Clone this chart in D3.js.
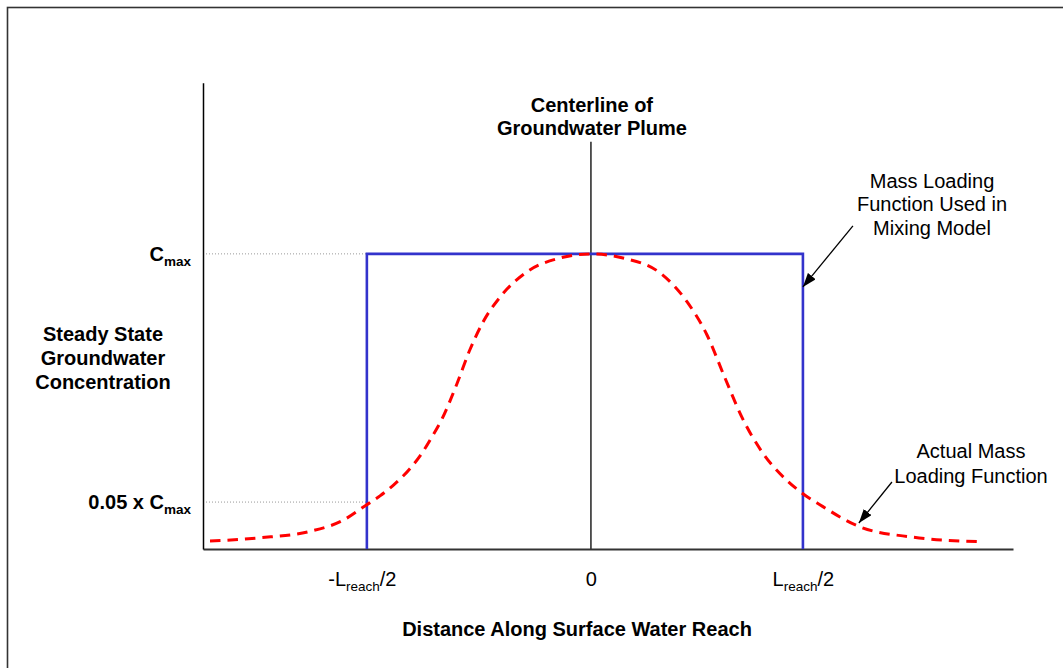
<!DOCTYPE html>
<html>
<head>
<meta charset="utf-8">
<script src="https://cdn.jsdelivr.net/npm/d3@7"></script>
<style>
  html, body { margin: 0; padding: 0; background: #fff; }
  svg { display: block; font-family: Arial, "Liberation Sans", sans-serif; }
</style>
</head>
<body>
<svg id="chart" width="1063" height="668"></svg>
<script>
// Distance along the reach, in units of L_reach/2 (0 = plume centerline)
const plumeX = [-1.797, -1.561, -1.325, -1.170, -1.066, -0.995, -0.934, -0.854, -0.797,
                -0.750, -0.703, -0.632, -0.571, -0.509, -0.420, -0.302, -0.146, 0,
                0.151, 0.325, 0.453, 0.547, 0.632, 0.712, 0.807, 0.925, 0.995,
                1.080, 1.269, 1.519, 1.821];
// Relative groundwater concentration (1 = Cmax)
const plumeC = [0.027, 0.038, 0.060, 0.097, 0.146, 0.180, 0.215, 0.272, 0.325,
                0.380, 0.440, 0.560, 0.675, 0.769, 0.861, 0.939, 0.986, 1.0,
                0.986, 0.936, 0.838, 0.726, 0.580, 0.447, 0.329, 0.232, 0.190,
                0.150, 0.075, 0.040, 0.025];

// Step (box) loading function used in the mixing model
const boxX = [-1.057, -1.057, 1.0, 1.0];
const boxC = [0, 1.0, 1.0, 0];

// Axis ticks
const xTickValues = [-1.057, 0, 1.0];
const xTickMain = ["-L", "0", "L"];
const xTickSub  = ["reach", "", "reach"];
const xTickTail = ["/2", "", "/2"];

const yTickValues = [1.0, 0.159];
const yTickMain = ["C", "0.05 x C"];
const yTickSub  = ["max", "max"];

// Titles and annotations
const centerTitle = ["Centerline of", "Groundwater Plume"];
const yTitle = ["Steady State", "Groundwater", "Concentration"];
const xTitle = "Distance Along Surface Water Reach";
const boxNote = ["Mass Loading", "Function Used in", "Mixing Model"];
const curveNote = ["Actual Mass", "Loading Function"];

const svg = d3.select("#chart");

// outer frame
svg.append("rect")
  .attr("x", 7.5).attr("y", 7.5)
  .attr("width", 1070).attr("height", 680)
  .attr("fill", "none").attr("stroke", "#333").attr("stroke-width", 1.6);

const x = d3.scaleLinear().domain([-1.83, 1.991]).range([203, 1013]);
const y = d3.scaleLinear().domain([0, 1.58]).range([549, 82.7]);

const defs = svg.append("defs");
defs.append("marker")
  .attr("id", "arrowHead")
  .attr("markerUnits", "userSpaceOnUse")
  .attr("viewBox", "0 0 14 10")
  .attr("refX", 14).attr("refY", 5)
  .attr("markerWidth", 14).attr("markerHeight", 10)
  .attr("orient", "auto")
  .append("path").attr("d", "M0,0 L14,5 L0,10 Z").attr("fill", "#000");

// guide lines from the y axis to the box edge
const guides = svg.append("g");
yTickValues.forEach(v => {
  guides.append("line")
    .attr("x1", x.range()[0]).attr("x2", x(boxX[0]))
    .attr("y1", y(v)).attr("y2", y(v))
    .attr("stroke", "#999").attr("stroke-width", 1)
    .attr("stroke-dasharray", "1,2");
});

// plume centerline
svg.append("line")
  .attr("x1", x(0)).attr("x2", x(0))
  .attr("y1", 141.7).attr("y2", y(0))
  .attr("stroke", "#222").attr("stroke-width", 1.5);

// x axis
const xAxis = svg.append("g")
  .attr("transform", `translate(0,${y(0)})`)
  .call(d3.axisBottom(x).tickValues(xTickValues).tickSize(0).tickSizeOuter(0).tickPadding(23));
xAxis.select(".domain").attr("stroke", "#333").attr("stroke-width", 2);
xAxis.selectAll(".tick text")
  .attr("font-size", 20).attr("font-family", null).attr("fill", "#000")
  .each(function(d, i) {
    const t = d3.select(this).text(null);
    if (xTickSub[i]) t.attr("dx", i === 0 ? -5 : 0);
    t.append("tspan").text(xTickMain[i]);
    if (xTickSub[i]) {
      t.append("tspan").attr("font-size", 13.5).attr("dy", 5).text(xTickSub[i]);
      t.append("tspan").attr("dy", -5).text(xTickTail[i]);
    }
  });

// y axis
const yAxis = svg.append("g")
  .attr("transform", `translate(${x.range()[0]},0)`)
  .call(d3.axisLeft(y).tickValues(yTickValues).tickSize(0).tickSizeOuter(0).tickPadding(12));
yAxis.select(".domain").attr("stroke", "#000").attr("stroke-width", 1.5);
yAxis.selectAll(".tick text")
  .attr("font-size", 20).attr("font-weight", "bold").attr("font-family", null).attr("fill", "#000")
  .each(function(d, i) {
    const t = d3.select(this).text(null);
    t.append("tspan").text(yTickMain[i]);
    t.append("tspan").attr("font-size", 13.5).attr("dy", 5).text(yTickSub[i]);
  });

// box loading function
const line = d3.line().x(d => x(d[0])).y(d => y(d[1]));
svg.append("path")
  .datum(d3.zip(boxX, boxC))
  .attr("d", line)
  .attr("fill", "none").attr("stroke", "#3333cc").attr("stroke-width", 2.6);

// actual (bell-shaped) loading function
svg.append("path")
  .datum(d3.zip(plumeX, plumeC))
  .attr("d", line.curve(d3.curveMonotoneX))
  .attr("fill", "none").attr("stroke", "#ff0000").attr("stroke-width", 3)
  .attr("stroke-dasharray", "10.5,7");

// titles
const bold = (g, lines, cx, y0, dy) => {
  g.selectAll(null).data(lines).join("text")
    .attr("x", cx).attr("y", (d, i) => y0 + i * dy)
    .attr("text-anchor", "middle").attr("font-size", 20).attr("font-weight", "bold")
    .text(d => d);
};
bold(svg.append("g"), centerTitle, x(0) + 1, 112, 23);
bold(svg.append("g"), yTitle, 103, 341, 24);
bold(svg.append("g"), [xTitle], 577, 636, 0);

// annotations
const note = (lines, cx, y0, dy) => {
  svg.append("g").selectAll("text").data(lines).join("text")
    .attr("x", cx).attr("y", (d, i) => y0 + i * dy)
    .attr("text-anchor", "middle").attr("font-size", 20).attr("fill", "#000")
    .text(d => d);
};
note(boxNote, 932, 188, 23.4);
note(curveNote, 971, 458, 25);

const arrow = (u0, v0, u1, v1) => {
  svg.append("line")
    .attr("x1", x(u0)).attr("y1", y(v0))
    .attr("x2", x(u1)).attr("y2", y(v1))
    .attr("stroke", "#000").attr("stroke-width", 1.3)
    .attr("marker-end", "url(#arrowHead)");
};
arrow(1.236, 1.095, 1.0, 0.888);
arrow(1.420, 0.227, 1.264, 0.088);
</script>
</body>
</html>
